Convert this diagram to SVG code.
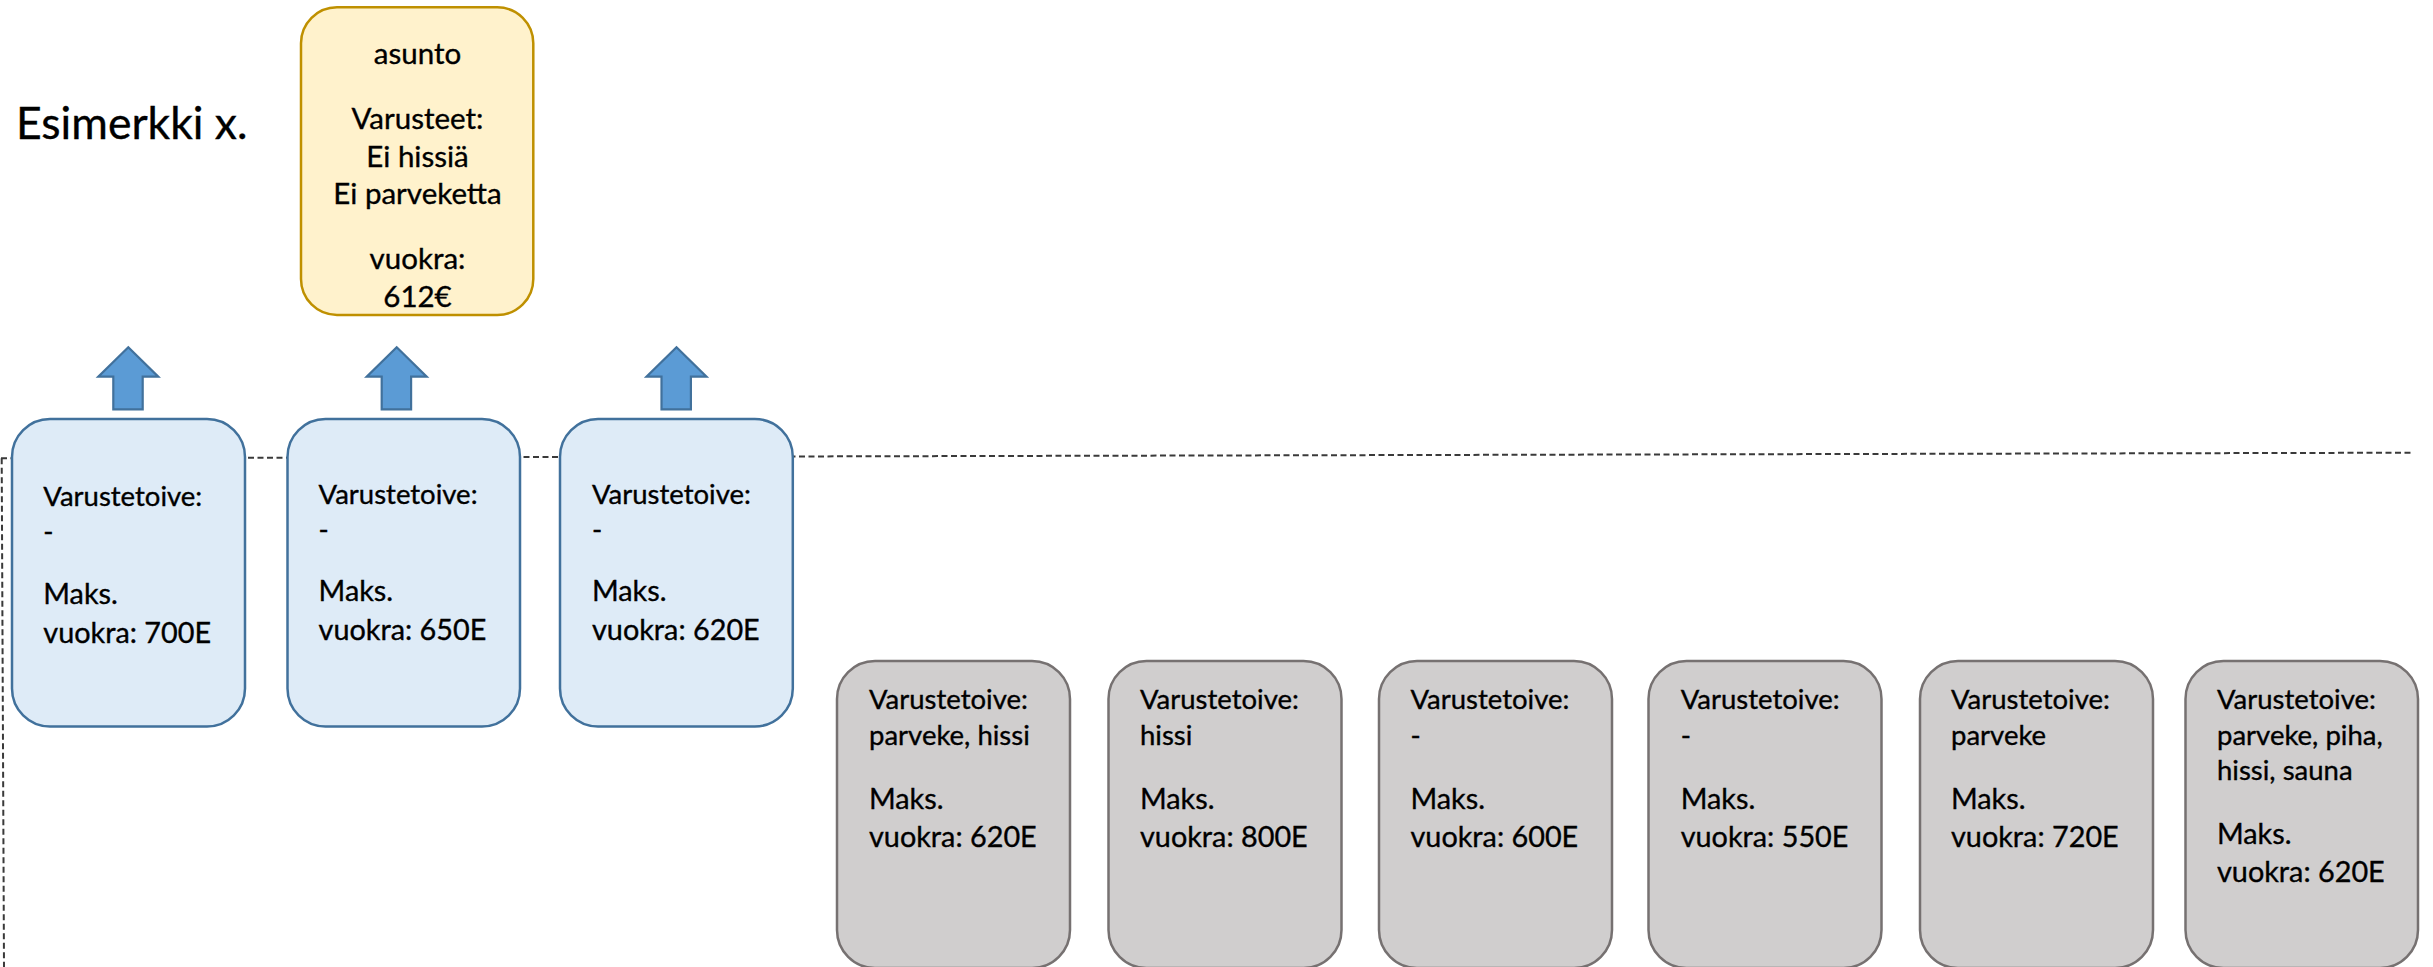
<svg xmlns="http://www.w3.org/2000/svg" width="2433" height="967" viewBox="0 0 2433 967">
<defs>
<style>
text { font-family: Lato, "Liberation Sans", "DejaVu Sans", sans-serif; fill: #000000; stroke: #000000; stroke-width: 0.35px; }
.title { font-size: 44.5px; }
.ap { font-size: 29.5px; text-anchor: middle; }
.s { font-size: 27.5px; }
.l { font-size: 28.8px; }
.asunto { fill: #FFF2CC; stroke: #BF9000; stroke-width: 2.5; }
.blue { fill: #DEEBF7; stroke: #41719C; stroke-width: 2.5; }
.grey { fill: #D0CECE; stroke: #767171; stroke-width: 2.5; }
.arrow { fill: #5B9BD5; stroke: #41719C; stroke-width: 2.2; stroke-linejoin: miter; }
.dash { fill: none; stroke: #3A3A3A; stroke-width: 2; stroke-dasharray: 6 3.5; }
</style>
<polygon id="uparrow" points="0,0 30,29.4 14.4,29.4 14.4,62 -15,62 -15,29.4 -30,29.4"/>
</defs>
<rect width="2433" height="967" fill="#FFFFFF"/>

<g id="guides">
<line class="dash" x1="1" y1="458.3" x2="2413" y2="452.7"/>
<line class="dash" x1="1.7" y1="458.3" x2="4" y2="967"/>
</g>

<g id="title">
<text class="title" x="16" y="139.3">Esimerkki x.</text>
</g>

<g id="asunto">
<rect class="asunto" x="301" y="7.3" width="232.3" height="307.7" rx="36" ry="36"/>
<text class="ap" x="417.5" y="64">asunto</text>
<text class="ap" x="417.5" y="129.3">Varusteet:</text>
<text class="ap" x="417.5" y="166.7">Ei hissiä</text>
<text class="ap" x="417.5" y="204">Ei parveketta</text>
<text class="ap" x="417.5" y="269.3">vuokra:</text>
<text class="ap" x="417.5" y="307.3">612€</text>
</g>

<g id="connectors">
<use href="#uparrow" class="arrow" x="128.3" y="347.3"/>
<use href="#uparrow" class="arrow" x="396.7" y="347.3"/>
<use href="#uparrow" class="arrow" x="676.5" y="347.3"/>
</g>

<g id="hakija1">
<rect class="blue" x="12" y="419" width="233" height="307.5" rx="38" ry="38"/>
<text class="s" x="43.3" y="506">Varustetoive:</text>
<text class="s" x="43.3" y="541">-</text>
<text class="l" x="43.3" y="604">Maks.</text>
<text class="l" x="43.3" y="642.7">vuokra: 700E</text>
</g>
<g id="hakija2">
<rect class="blue" x="287.5" y="419" width="232.5" height="307.5" rx="38" ry="38"/>
<text class="s" x="318.6" y="503.5">Varustetoive:</text>
<text class="s" x="318.6" y="538.5">-</text>
<text class="l" x="318.6" y="601.2">Maks.</text>
<text class="l" x="318.6" y="639.7">vuokra: 650E</text>
</g>
<g id="hakija3">
<rect class="blue" x="560" y="419" width="232.8" height="307.5" rx="38" ry="38"/>
<text class="s" x="592" y="503.5">Varustetoive:</text>
<text class="s" x="592" y="538.5">-</text>
<text class="l" x="592" y="601.2">Maks.</text>
<text class="l" x="592" y="639.7">vuokra: 620E</text>
</g>

<g id="hakija4">
<rect class="grey" x="837" y="661" width="233" height="307" rx="38" ry="38"/>
<text class="s" x="869" y="709">Varustetoive:</text>
<text class="s" x="869" y="745">parveke, hissi</text>
<text class="l" x="869" y="809">Maks.</text>
<text class="l" x="869" y="847">vuokra: 620E</text>
</g>
<g id="hakija5">
<rect class="grey" x="1108.5" y="661" width="233" height="307" rx="38" ry="38"/>
<text class="s" x="1140" y="709">Varustetoive:</text>
<text class="s" x="1140" y="745">hissi</text>
<text class="l" x="1140" y="809">Maks.</text>
<text class="l" x="1140" y="847">vuokra: 800E</text>
</g>
<g id="hakija6">
<rect class="grey" x="1379" y="661" width="233" height="307" rx="38" ry="38"/>
<text class="s" x="1410.5" y="709">Varustetoive:</text>
<text class="s" x="1410.5" y="745">-</text>
<text class="l" x="1410.5" y="809">Maks.</text>
<text class="l" x="1410.5" y="847">vuokra: 600E</text>
</g>
<g id="hakija7">
<rect class="grey" x="1648.5" y="661" width="233" height="307" rx="38" ry="38"/>
<text class="s" x="1680.7" y="709">Varustetoive:</text>
<text class="s" x="1680.7" y="745">-</text>
<text class="l" x="1680.7" y="809">Maks.</text>
<text class="l" x="1680.7" y="847">vuokra: 550E</text>
</g>
<g id="hakija8">
<rect class="grey" x="1920" y="661" width="233" height="307" rx="38" ry="38"/>
<text class="s" x="1951" y="709">Varustetoive:</text>
<text class="s" x="1951" y="745">parveke</text>
<text class="l" x="1951" y="809">Maks.</text>
<text class="l" x="1951" y="847">vuokra: 720E</text>
</g>
<g id="hakija9">
<rect class="grey" x="2185.5" y="661" width="232.5" height="307" rx="38" ry="38"/>
<text class="s" x="2217" y="709">Varustetoive:</text>
<text class="s" x="2217" y="745">parveke, piha,</text>
<text class="s" x="2217" y="780">hissi, sauna</text>
<text class="l" x="2217" y="844">Maks.</text>
<text class="l" x="2217" y="882">vuokra: 620E</text>
</g>
</svg>
